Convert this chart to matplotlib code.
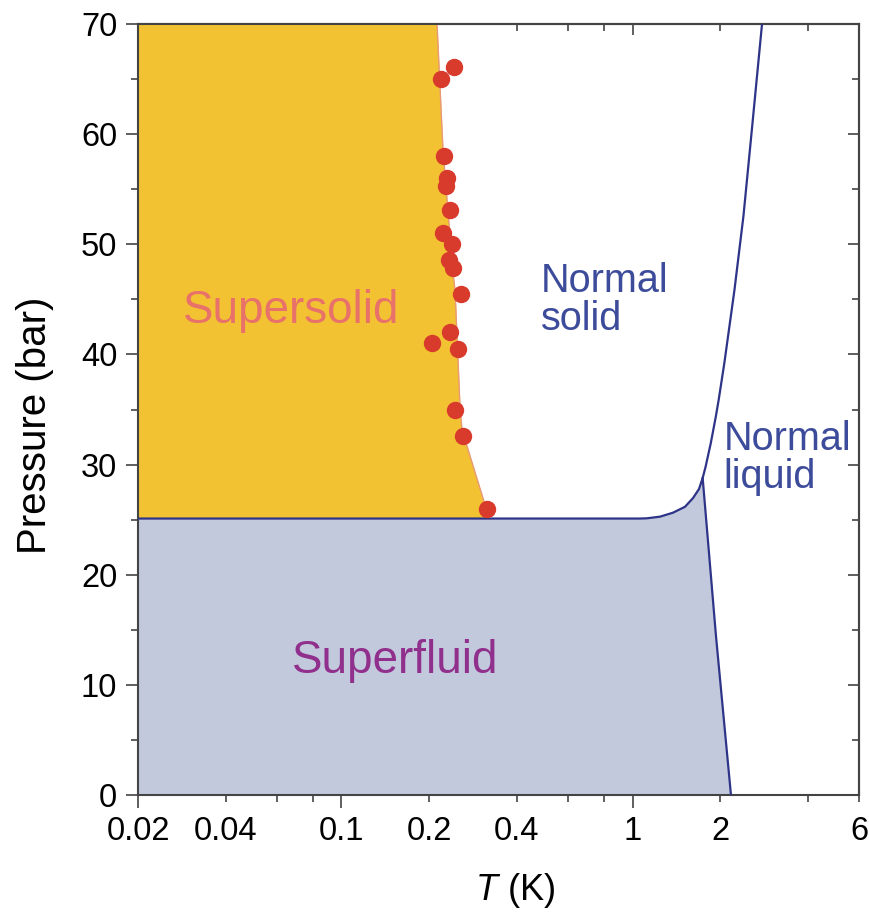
import numpy as np
import matplotlib
matplotlib.use('Agg')
import matplotlib.pyplot as plt
from matplotlib.ticker import FixedLocator, FuncFormatter, NullFormatter

plt.rcParams['font.family'] = ['Liberation Sans', 'DejaVu Sans']
plt.rcParams['mathtext.fontset'] = 'custom'
plt.rcParams['mathtext.rm'] = 'Liberation Sans'
plt.rcParams['mathtext.it'] = 'Liberation Sans:italic'

# melting curve (K, bar)
melt_T = [0.02, 1.061, 1.119, 1.243, 1.377, 1.515, 1.614, 1.692, 1.742, 1.783,
          1.858, 1.933, 1.977, 2.068, 2.240, 2.406, 2.570, 2.786]
melt_P = [25.1, 25.1, 25.12, 25.27, 25.63, 26.17, 26.96, 27.78, 28.78, 29.81,
          31.96, 34.36, 35.87, 39.22, 45.85, 52.6, 60.37, 70.0]

# lambda line
lam_T = [1.742, 1.936, 2.179]
lam_P = [28.78, 14.4, 0.0]

# supersolid boundary
ss_T = [0.213, 0.2233, 0.2416, 0.2456, 0.2555, 0.2596, 0.322]
ss_P = [70.0, 58.56, 47.4, 45.85, 35.23, 33.14, 25.1]

# measured onset points
pts_T = [0.2436, 0.2198, 0.225, 0.2305, 0.2295, 0.236, 0.2233, 0.2398, 0.2342,
         0.2416, 0.258, 0.236, 0.2047, 0.2515, 0.2456, 0.2617, 0.3163]
pts_P = [66.1, 65.0, 58.0, 56.0, 55.3, 53.1, 51.0, 50.0, 48.6,
         47.85, 45.5, 42.0, 41.0, 40.5, 35.0, 32.6, 26.0]
pts_err = [0.006, 0.006, 0.006, 0.006, 0.008, 0.006, 0.006, 0.006, 0.006,
           0.008, 0.006, 0.006, 0.006, 0.008, 0.008, 0.006, 0.006]

xticks_major = [0.02, 0.1, 1]
xticks_minor = [0.04, 0.06, 0.08, 0.2, 0.4, 0.6, 0.8, 2, 4, 6]
minor_labels = {0.04: '0.04', 0.2: '0.2', 0.4: '0.4', 2: '2', 6: '6'}

navy = '#2e3487'

fig = plt.figure(figsize=(8.69, 9.16), dpi=100)
ax = fig.add_axes([138/869, 1 - 795/916, (859 - 138)/869, (795 - 24)/916])
ax.set_xscale('log')
ax.set_xlim(0.02, 6)
ax.set_ylim(0, 70)

# superfluid region
k = np.searchsorted(melt_T, lam_T[0])
sf_T = [0.02] + melt_T[:k] + lam_T + [0.02]
sf_P = [0.0] + melt_P[:k] + lam_P + [0.0]
ax.fill(sf_T, sf_P, color='#c3c9dd', lw=0, zorder=1)

# supersolid region
ax.fill_betweenx(ss_P, 0.02, ss_T, color='#f2c232', lw=0, zorder=1)
ax.plot(ss_T, ss_P, color='#e89a78', lw=1.0, zorder=2)

ax.plot(melt_T, melt_P, color=navy, lw=1.6, zorder=3, solid_joinstyle='round')
ax.plot(lam_T, lam_P, color=navy, lw=1.6, zorder=3)

ax.errorbar(pts_T, pts_P, xerr=pts_err, fmt='o', ms=11.5, color='#d83a2c',
            mec='#d83a2c', ecolor='#f0a8a8', elinewidth=1.5, capsize=0, zorder=5)

ax.text(0.0672, 43.9, 'Supersolid', color='#e8716a', fontsize=33,
        ha='center', va='center')
ax.text(0.153, 12.2, 'Superfluid', color='#902f8c', fontsize=33,
        ha='center', va='center')
ax.text(0.485, 44.9, 'Normal\nsolid', color='#3d4b9b', fontsize=28.5,
        ha='left', va='center', linespacing=1.0)
ax.text(2.06, 30.6, 'Normal\nliquid', color='#3d4b9b', fontsize=28.5,
        ha='left', va='center', linespacing=1.0)

# ticks
ax.xaxis.set_major_locator(FixedLocator(xticks_major))
ax.xaxis.set_minor_locator(FixedLocator(xticks_minor))
ax.xaxis.set_major_formatter(FuncFormatter(lambda v, p: '%g' % v))
ax.xaxis.set_minor_formatter(FuncFormatter(lambda v, p: minor_labels.get(round(v, 3), '')))
ax.set_yticks(range(0, 71, 10))
ax.set_yticks(range(5, 70, 10), minor=True)

ax.tick_params(which='both', direction='out', labelsize=23.5, color='#444444', width=1.2)
ax.tick_params(which='major', length=9, pad=6)
ax.tick_params(which='minor', length=5, pad=10)
ax.tick_params(axis='y', which='both', pad=6)

top = ax.secondary_xaxis('top')
top.set_xscale('log')
top.xaxis.set_major_locator(FixedLocator(xticks_major))
top.xaxis.set_minor_locator(FixedLocator(xticks_minor))
top.xaxis.set_major_formatter(NullFormatter())
top.xaxis.set_minor_formatter(NullFormatter())
top.tick_params(which='both', direction='in', color='#444444', width=1.2)
top.tick_params(which='major', length=8)
top.tick_params(which='minor', length=5)

right = ax.secondary_yaxis('right')
right.set_yticks(range(0, 71, 10))
right.set_yticks(range(5, 70, 10), minor=True)
right.set_yticklabels([])
right.tick_params(which='both', direction='in', color='#444444', width=1.2)
right.tick_params(which='major', length=8)
right.tick_params(which='minor', length=5)

for a in (ax, top, right):
    for s in a.spines.values():
        s.set_color('#444444')
        s.set_linewidth(1.5)

ax.set_xlabel(r'$T$ (K)', fontsize=26)
ax.set_ylabel('Pressure (bar)', fontsize=29)
ax.xaxis.set_label_coords(0.523, -0.098)
ax.yaxis.set_label_coords(-0.117, 0.48)

fig.savefig('out.png', dpi=100)
